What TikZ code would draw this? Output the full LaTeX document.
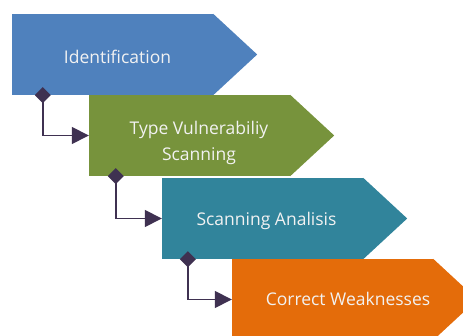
\documentclass[tikz,border=0pt]{standalone}
\usepackage{fontspec}
\setmainfont{Open Sans}
\usetikzlibrary{arrows.meta}
\definecolor{cblue}{HTML}{4F81BD}
\definecolor{cgreen}{HTML}{77933C}
\definecolor{cteal}{HTML}{31849B}
\definecolor{corange}{HTML}{E46C0A}
\definecolor{cline}{HTML}{3F3151}
\definecolor{ctext}{HTML}{F2F2F2}
\tikzset{
  box/.style={rectangle, minimum width=201pt, minimum height=81pt, inner sep=0pt, fill=#1},
  lbl/.style={text=ctext, font=\fontsize{17.5}{26}\selectfont, align=center, inner sep=0pt},
  conn/.style={draw=cline, line width=1.5pt, {Diamond[length=16pt,width=16pt]}-{Triangle[length=17pt,width=17pt]}}
}
\begin{document}
\begin{tikzpicture}[x=1pt,y=-1pt]
\useasboundingbox (0,0) rectangle (463,336);
% box 1
\node[box=cblue] (b1) at (112.5,54.5) {};
\fill[cblue] (b1.north east) -- ([xshift=44pt]b1.east) -- (b1.south east) -- cycle;
\node[lbl] (t1) at (117.5,57) {Identification};
% box 2
\node[box=cgreen] (b2) at (189.5,135.5) {};
\fill[cgreen] (b2.north east) -- ([xshift=44pt]b2.east) -- (b2.south east) -- cycle;
\node[lbl] (t2) at (199,143) {Type Vulnerabiliy\\Scanning};
% box 3
\node[box=cteal] (b3) at (262.5,218.5) {};
\fill[cteal] (b3.north east) -- ([xshift=44pt]b3.east) -- (b3.south east) -- cycle;
\node[lbl] (t3) at (266.5,221) {Scanning Analisis};
% box 4
\node[box=corange] (b4) at (332.5,299.5) {};
\fill[corange] (b4.north east) -- ([xshift=44pt]b4.east) -- (b4.south east) -- cycle;
\node[lbl] (t4) at (348,299) {Correct Weaknesses};
% connectors
\coordinate (s1) at ([xshift=31pt,yshift=8pt]b1.south west);
\coordinate (s2) at ([xshift=27pt,yshift=8pt]b2.south west);
\coordinate (s3) at ([xshift=26pt,yshift=8pt]b3.south west);
\draw[conn] (s1) |- (b2.west);
\draw[conn] (s2) |- (b3.west);
\draw[conn] (s3) |- (b4.west);
\end{tikzpicture}
\end{document}
